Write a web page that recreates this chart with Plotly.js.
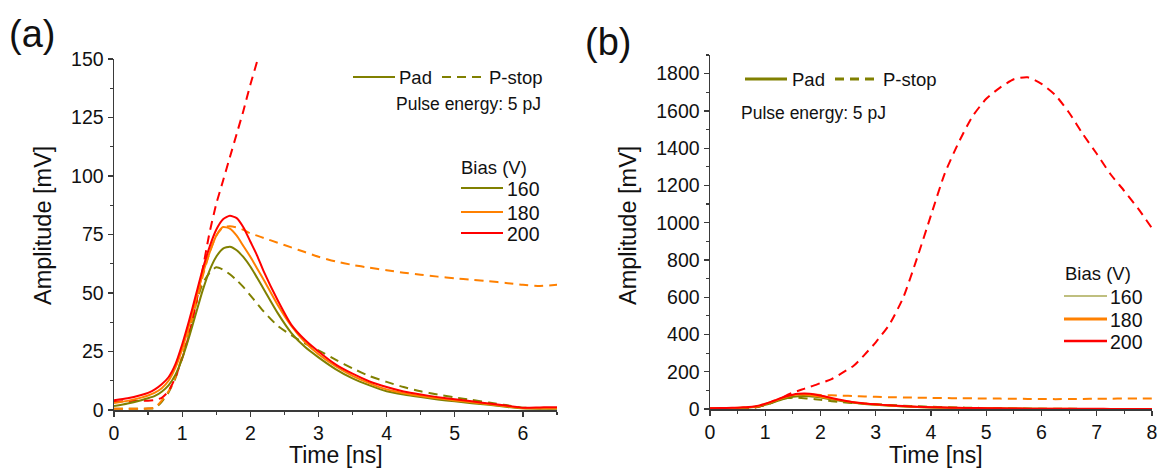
<!DOCTYPE html>
<html>
<head>
<meta charset="utf-8">
<script src="https://cdn.plot.ly/plotly-3.0.1.min.js"></script>
<style>html,body{margin:0;padding:0;background:#fff;}#chart{width:1158px;height:469px;}</style>
</head>
<body>
<div id="chart"></div>
<script>
// ---- Data ----
const timeNs = [0, 0.2, 0.4, 0.5, 0.6, 0.7, 0.8, 0.9, 1.0, 1.1, 1.2, 1.3, 1.4, 1.5, 1.6, 1.7, 1.8, 1.9, 2.0, 2.1, 2.2, 2.4, 2.6, 2.8, 3.0, 3.25, 3.5, 3.75, 4.0, 4.25, 4.5, 4.75, 5.0, 5.25, 5.5, 5.75, 6.0, 6.25, 6.5, 6.75, 7.0, 7.25, 7.5, 7.75, 8.0];

const pad160 = [1.7, 2.8, 4.2, 5.0, 6.0, 7.8, 10.5, 15, 22, 31, 41, 51, 59.5, 65.5, 69, 69.8, 68.3, 65.3, 61.3, 56.5, 51.5, 41.5, 33, 27, 22.5, 17.5, 13.5, 10.5, 8, 6.6, 5.5, 4.5, 3.7, 2.9, 2.2, 1.4, 0.7, 0.5, 0.5, 0.4, 0.4, 0.3, 0.3, 0.3, 0.3];
const pad180 = [3.0, 3.9, 5.3, 6.2, 7.4, 9.3, 12.5, 18, 26, 36, 47, 58, 67, 74.5, 78.2, 77.5, 74.5, 70, 65.5, 60.5, 55.5, 45, 36, 29, 23.8, 18.7, 14.6, 11.4, 8.8, 7.2, 6.0, 5.0, 4.1, 3.3, 2.5, 1.6, 0.8, 0.7, 0.7, 0.6, 0.5, 0.5, 0.4, 0.4, 0.4];
const pad200 = [4.2, 5.0, 6.4, 7.3, 8.8, 11, 14, 19.5, 28, 38, 49, 60, 69.5, 77, 81.5, 83, 82, 78, 72, 66, 59, 47, 36.5, 30, 25, 19.5, 15.5, 12.2, 9.8, 7.9, 6.6, 5.5, 4.6, 3.7, 2.8, 1.9, 1.0, 1.1, 1.2, 1.0, 0.8, 0.6, 0.5, 0.5, 0.5];

const pstop160 = [0.5, 0.5, 0.5, 0.6, 0.8, 3.5, 7.5, 13.5, 22.5, 33, 45, 54, 58.5, 61, 60, 58, 55.5, 52.5, 49, 45.5, 42, 36, 32, 28.5, 25.5, 21.5, 17.8, 14.5, 12, 9.8, 8, 6.6, 5.4, 4.3, 3.2, 2.1, 1.0, 0.8, 0.8, 0.6, 0.5, 0.4, 0.4, 0.3, 0.3];
const pstop180 = [0.5, 0.5, 0.5, 0.6, 1.0, 4, 8, 14, 23, 33, 45, 57, 67, 74.5, 78, 78.5, 78, 77, 75.5, 74.5, 73.5, 71.5, 69.5, 67.5, 65.5, 63.5, 62, 60.8, 59.7, 58.7, 57.8, 57, 56.3, 55.7, 55, 54.3, 53.5, 53, 53.5, 54, 55, 55.5, 56, 56.5, 57];
const pstop200 = [3.5, 3.8, 4.0, 4.0, 4.3, 5.2, 8, 14, 22, 32, 45, 60, 75.5, 88, 98, 108, 118, 128, 139, 149, 160, 195, 232, 292, 358, 455, 600, 812, 1040, 1265, 1430, 1570, 1665, 1725, 1770, 1780, 1745, 1685, 1590, 1475, 1370, 1260, 1170, 1075, 970];

const biasLabels = ["160", "180", "200"];
const colors = ["#808000", "#ff8000", "#ff0000"];
const padSeries = [pad160, pad180, pad200];
const pstopSeries = [pstop160, pstop180, pstop200];

// ---- Helpers: pixel -> paper ----
const W = 1158, H = 469;
const px = x => x / W;
const py = y => 1 - y / H;

const FONT = "Liberation Sans, Arial, Helvetica, sans-serif";
const TXT = "#111111";
const AX = "#3a3a3a";
const DASH = "9px,6px";

const traces = [];
[["x", "y"], ["x2", "y2"]].forEach(([xa, ya]) => {
  pstopSeries.forEach((s, i) => traces.push({
    x: timeNs, y: s, xaxis: xa, yaxis: ya, type: "scatter", mode: "lines",
    name: "P-stop " + biasLabels[i] + " V", showlegend: false,
    line: {color: colors[i], width: 2, dash: DASH, shape: "spline", smoothing: 0.6},
    hoverinfo: "x+y"
  }));
  padSeries.forEach((s, i) => traces.push({
    x: timeNs, y: s, xaxis: xa, yaxis: ya, type: "scatter", mode: "lines",
    name: "Pad " + biasLabels[i] + " V", showlegend: false,
    line: {color: colors[i], width: 2, shape: "spline", smoothing: 0.6},
    hoverinfo: "x+y"
  }));
});

function axis(domain, range, dtick, minorDtick, anchor) {
  return {
    domain: domain, range: range, anchor: anchor,
    showline: true, linecolor: AX, linewidth: 1.5, mirror: false,
    showgrid: false, zeroline: false,
    ticks: "outside", ticklen: 5, tickwidth: 1.3, tickcolor: AX,
    dtick: dtick, tick0: 0,
    minor: {ticks: "outside", ticklen: 3, tickwidth: 1.2, tickcolor: AX, dtick: minorDtick, showgrid: false},
    tickfont: {family: FONT, size: 19.5, color: TXT},
    fixedrange: true
  };
}

const shapes = [];
const annotations = [];
function legLine(x0, x1, y, color, width, dash) {
  shapes.push({type: "line", xref: "paper", yref: "paper", x0: px(x0), x1: px(x1), y0: py(y), y1: py(y),
    line: {color: color, width: width, dash: dash || "solid"}});
}
function txt(text, x, y, xanchor, size, angle) {
  annotations.push({text: text, xref: "paper", yref: "paper", x: px(x), y: py(y),
    xanchor: xanchor || "left", yanchor: "middle", showarrow: false, borderpad: 0,
    textangle: angle || 0, font: {family: FONT, size: size || 18, color: TXT}});
}

// Panel (a) legend
legLine(353, 395, 77, colors[0], 2);
txt("Pad", 398, 78, "left", 18.5);
legLine(442, 485, 77, colors[0], 2, DASH);
txt("P-stop", 488, 78, "left", 18.5);
txt("Pulse energy: 5 pJ", 542, 104, "right", 17.5);
txt("Bias (V)", 460, 167, "left", 18.5);
[188, 212, 233].forEach((y, i) => { legLine(461, 503, y, colors[i], 2); txt(biasLabels[i], 506, y + 1, "left", 19.5); });

// Panel (b) legend
legLine(745, 787, 79, colors[0], 3);
txt("Pad", 791, 80, "left", 18.5);
legLine(835, 877, 79, colors[0], 3, DASH);
txt("P-stop", 882, 80, "left", 18.5);
txt("Pulse energy: 5 pJ", 740, 113, "left", 17.5);
txt("Bias (V)", 1064, 273, "left", 18.5);
[[296, 1.2], [319, 3], [341, 2.5]].forEach(([y, w], i) => { legLine(1064, 1107, y, colors[i], w); txt(biasLabels[i], 1109, y + 1, "left", 19.5); });

// Panel labels and axis titles
txt("(a)", 32, 34, "center", 38);
txt("(b)", 608, 42, "center", 38);
txt("Amplitude [mV]", 43, 226, "center", 23.5, -90);
txt("Time [ns]", 336, 455, "center", 23);
txt("Amplitude [mV]", 628, 226, "center", 23.5, -90);
txt("Time [ns]", 936, 455, "center", 23);

const layout = {
  width: W, height: H,
  margin: {l: 0, r: 0, t: 0, b: 0},
  paper_bgcolor: "#ffffff", plot_bgcolor: "#ffffff",
  showlegend: false,
  font: {family: FONT, color: TXT},
  xaxis: axis([px(114), px(557)], [0, 6.5], 1, 0.5, "y"),
  yaxis: axis([py(410), py(59)], [0, 150], 25, 12.5, "x"),
  xaxis2: axis([px(710), px(1152)], [0, 8], 1, 0.5, "y2"),
  yaxis2: axis([py(409), py(55)], [0, 1900], 200, 100, "x2"),
  shapes: shapes,
  annotations: annotations
};

Plotly.newPlot("chart", traces, layout, {displayModeBar: false, staticPlot: true});
</script>
</body>
</html>
